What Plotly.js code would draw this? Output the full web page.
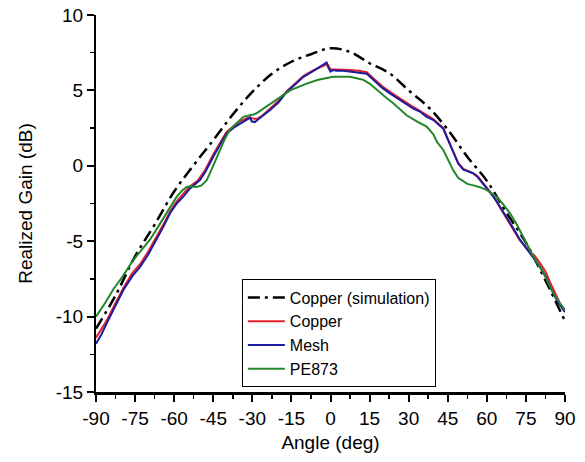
<!DOCTYPE html>
<html>
<head>
<meta charset="utf-8">
<script src="https://cdn.plot.ly/plotly-3.0.1.min.js"></script>
<style>html,body{margin:0;padding:0;background:#fff;}#chart{width:585px;height:462px;}</style>
</head>
<body>
<div id="chart"></div>
<script>
// Copper (simulation)
const simAngle = [-90,-82.5,-75,-67.5,-60,-52.5,-45,-37.5,-30,-22.5,-15,-7.5,0,7.5,15,22.5,30,37.5,45,52.5,60,67.5,75,82.5,90];
const simGain  = [-10.8,-8.6,-6.0,-3.9,-1.7,0.05,1.7,3.4,4.9,6.1,6.9,7.4,7.8,7.55,6.8,6.15,5.0,3.9,2.4,0.6,-1.0,-3.1,-5.1,-7.6,-10.3];

// Copper (measured)
const copperAngle = [-90,-86,-82.5,-79.5,-76,-73,-70,-66.7,-64,-61.6,-59,-56.5,-53.9,-51,-48,-45,-42,-39.9,-37,-34.7,-31.6,-30,-28.3,-26,-23.2,-20,-16.8,-13.5,-10.4,-7,-4,-2,-1.2,0,1,3,5,7.5,11,13.9,15.5,17.7,20,22.8,26.7,31.8,34.3,36.9,39.4,41,43.3,45,47.1,49,51,54.8,56.5,58.6,60.5,62.5,65,67.6,70,72.7,76.6,78.5,80.4,82.5,84.2,86.8,88,89.4,90];
const copperGain  = [-11.4,-10.3,-9.1,-8.1,-7.1,-6.5,-5.7,-4.7,-3.85,-3.05,-2.35,-1.85,-1.35,-1.0,-0.25,0.75,1.65,2.25,2.65,2.95,3.2,3.15,3.1,3.35,3.8,4.3,4.95,5.45,5.95,6.3,6.55,6.7,6.75,6.4,6.4,6.4,6.4,6.35,6.3,6.2,5.95,5.6,5.25,4.9,4.45,3.9,3.65,3.35,3.1,2.85,2.5,1.8,0.9,0.2,-0.2,-0.5,-0.7,-1.15,-1.55,-2.0,-2.75,-3.5,-4.15,-4.95,-5.7,-6.0,-6.45,-7.0,-7.7,-8.7,-9.1,-9.5,-9.65];

// Mesh
const meshAngle = [-90,-88,-85.9,-82.5,-79.5,-76,-73.1,-70,-66.7,-64,-61.6,-59,-56.5,-53.9,-50.1,-48,-45,-42,-39.9,-37,-34.7,-31.6,-30.8,-30.3,-29,-28.3,-26,-23.2,-20,-16.8,-13.5,-10.4,-7,-4,-2,-1.5,-0.8,0,1,2.4,5,7.5,11,13.9,15.5,17.7,20,22.8,26.7,31.8,34.3,36.9,39.4,41,43.3,45,47.1,49,51,54.8,56.5,58.6,60.5,62.5,65,67.6,70,72.7,76.6,78.5,80.4,82.5,84.2,86.8,88,89.4,90];
const meshGain  = [-11.8,-11.2,-10.45,-9.3,-8.24,-7.3,-6.7,-5.9,-4.9,-4.0,-3.15,-2.5,-2.05,-1.5,-0.95,-0.4,0.6,1.5,2.15,2.55,2.8,3.15,3.2,2.95,2.9,3.0,3.3,3.7,4.2,4.9,5.4,5.9,6.25,6.55,6.75,6.85,6.5,6.25,6.35,6.3,6.3,6.25,6.2,6.1,5.85,5.5,5.15,4.8,4.35,3.8,3.6,3.25,3.05,2.8,2.45,1.75,0.85,0.15,-0.25,-0.5,-0.75,-1.2,-1.6,-2.05,-2.7,-3.4,-4.1,-4.9,-5.8,-6.2,-6.7,-7.3,-8.0,-8.9,-9.2,-9.55,-9.7];

// PE873
const peAngle = [-90,-86.5,-83.4,-80,-75.7,-72.5,-69.3,-66,-62.9,-61,-59,-57,-55.2,-53.5,-51.4,-49.5,-47.5,-46.3,-44.5,-42.4,-40.5,-38.6,-36,-33.5,-30.9,-29.5,-28.3,-25,-22,-18.5,-15.5,-12,-9.15,-4.7,1,4,7.5,10,12.6,15,17,19,21.5,24.1,26.5,29.2,33.1,36.9,39.4,41,43.3,45,47.1,49,51,52.5,54.8,57,59.9,61.5,63.8,66,68.9,71.5,74,77.8,81.7,83.5,85.5,88,90];
const peGain  = [-10.0,-9.1,-8.2,-7.4,-6.25,-5.6,-4.9,-4.0,-3.15,-2.6,-2.05,-1.65,-1.4,-1.35,-1.4,-1.3,-0.95,-0.5,0.2,1.05,1.8,2.4,2.85,3.25,3.35,3.4,3.5,3.9,4.25,4.65,5.0,5.25,5.45,5.7,5.9,5.9,5.9,5.8,5.7,5.45,5.15,4.9,4.5,4.15,3.8,3.35,2.95,2.6,2.1,1.55,1.05,0.45,-0.3,-0.8,-1.05,-1.2,-1.3,-1.4,-1.6,-1.8,-2.05,-2.5,-3.15,-3.9,-4.7,-6.0,-7.1,-7.7,-8.45,-9.1,-9.55];

const xTicks = [-90,-75,-60,-45,-30,-15,0,15,30,45,60,75,90];
const yTicks = [-15,-10,-5,0,5,10];

const font = 'Arial, "Liberation Sans", sans-serif';

const traces = [
  {x: simAngle, y: simGain, name: 'Copper (simulation)', mode: 'lines',
   line: {color: '#000000', width: 2.5, dash: '12px,5px,3px,5px', shape: 'spline'}},
  {x: copperAngle, y: copperGain, name: 'Copper', mode: 'lines',
   line: {color: '#e3202c', width: 2}},
  {x: meshAngle, y: meshGain, name: 'Mesh', mode: 'lines',
   line: {color: '#1c1ca0', width: 2}},
  {x: peAngle, y: peGain, name: 'PE873', mode: 'lines',
   line: {color: '#23862a', width: 2}}
];

const layout = {
  width: 585, height: 462,
  margin: {l: 96, r: 20, t: 15, b: 70},
  paper_bgcolor: '#fff', plot_bgcolor: '#fff',
  font: {family: font, color: '#000', size: 19},
  showlegend: true,
  legend: {
    x: 0.311, y: 0.012, xanchor: 'left', yanchor: 'bottom',
    bordercolor: '#000', borderwidth: 1, bgcolor: '#fff',
    font: {family: font, size: 16, color: '#000'},
    itemwidth: 37, tracegroupgap: 0
  },
  xaxis: {
    range: [-90, 90], tickmode: 'array', tickvals: xTicks, ticktext: xTicks.map(String),
    ticks: 'outside', ticklen: 7, tickwidth: 2, tickcolor: '#000',
    showline: true, linecolor: '#000', linewidth: 3,
    showgrid: false, zeroline: false,
    minor: {dtick: 7.5, tick0: -90, ticks: 'outside', ticklen: 4, tickwidth: 1.5, tickcolor: '#000', showgrid: false},
    tickfont: {family: font, size: 19, color: '#000'},
    title: {text: 'Angle (deg)', font: {family: font, size: 19, color: '#000'}, standoff: 8}
  },
  yaxis: {
    range: [-15, 10], tickmode: 'array', tickvals: yTicks, ticktext: yTicks.map(String),
    ticks: 'outside', ticklen: 7, tickwidth: 2, tickcolor: '#000',
    showline: true, linecolor: '#000', linewidth: 2,
    showgrid: false, zeroline: false,
    minor: {dtick: 2.5, tick0: -15, ticks: 'outside', ticklen: 4, tickwidth: 1.5, tickcolor: '#000', showgrid: false},
    tickfont: {family: font, size: 19, color: '#000'},
    title: {text: 'Realized Gain (dB)', font: {family: font, size: 19, color: '#000'}, standoff: 18}
  }
};

Plotly.newPlot('chart', traces, layout, {staticPlot: true, displayModeBar: false});
</script>
</body>
</html>
